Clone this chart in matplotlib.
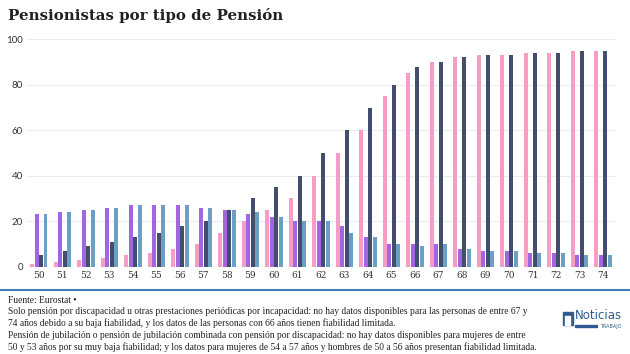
import numpy as np
import matplotlib
matplotlib.use("Agg")
import matplotlib.pyplot as plt
from matplotlib.patches import Rectangle
from matplotlib.lines import Line2D

ages = [str(a) for a in range(50, 75)]
# order inside each group: pink, purple, navy, steel blue
pink = [1, 2, 3, 4, 5, 6, 8, 10, 15, 20, 25, 30, 40, 50, 60, 75, 85, 90, 92, 93, 93, 94, 94, 95, 95]
purple = [23, 24, 25, 26, 27, 27, 27, 26, 25, 23, 22, 20, 20, 18, 13, 10, 10, 10, 8, 7, 7, 6, 6, 5, 5]
navy = [5, 7, 9, 11, 13, 15, 18, 20, 25, 30, 35, 40, 50, 60, 70, 80, 88, 90, 92, 93, 93, 94, 94, 95, 95]
steel = [23, 24, 25, 26, 27, 27, 27, 26, 25, 24, 22, 20, 20, 15, 13, 10, 9, 10, 8, 7, 7, 6, 6, 5, 5]
yticks = [0, 20, 40, 60, 80, 100]

colors = ["#f79cc4", "#a366e2", "#434d6e", "#6c9fc4"]
series = [pink, purple, navy, steel]

fig = plt.figure(figsize=(6.3, 3.54), dpi=100)
ax = fig.add_axes([0.043, 0.2466, 0.933, 0.6424])

x = np.arange(len(ages))
slot = 0.19
bw = 0.165
for i, (vals, c) in enumerate(zip(series, colors)):
    ax.bar(x + (i - 1.5) * slot, vals, width=bw, color=c, linewidth=0, zorder=3)

ax.set_xlim(-0.5, 24.5)
ax.set_ylim(0, 100)
ax.set_yticks(yticks)
ax.set_xticks(x)
ax.set_xticklabels(ages, family="DejaVu Serif", fontsize=6.5, color="#333333")
ax.set_yticklabels([str(t) for t in yticks], family="Lato", fontsize=7, color="#333333")
ax.grid(axis="y", color="#ececec", linewidth=0.8, zorder=0)
ax.tick_params(length=0, pad=3)
for s in ax.spines.values():
    s.set_visible(False)

fig.text(0.013, 0.955, "Pensionistas por tipo de Pensión", family="DejaVu Serif",
         fontsize=10.8, fontweight="bold", color="#222222", va="center")

fig.add_artist(Line2D([0, 1], [0.181, 0.181], color="#3f7fbf", linewidth=1.5))

notes = [
    "Fuente: Eurostat •",
    "Solo pensión por discapacidad u otras prestaciones periódicas por incapacidad: no hay datos disponibles para las personas de entre 67 y",
    "74 años debido a su baja fiabilidad, y los datos de las personas con 66 años tienen fiabilidad limitada.",
    "Pensión de jubilación o pensión de jubilación combinada con pensión por discapacidad: no hay datos disponibles para mujeres de entre",
    "50 y 53 años por su muy baja fiabilidad; y los datos para mujeres de 54 a 57 años y hombres de 50 a 56 años presentan fiabilidad limitada.",
]
for k, line in enumerate(notes):
    fig.text(0.013, 0.152 - k * 0.033, line, family="Liberation Serif", fontsize=6.85,
             color="#222222", va="center")

# logo
fig.add_artist(Rectangle((0.893, 0.082), 0.016, 0.036, color="#2e5c8f"))
fig.add_artist(Rectangle((0.897, 0.082), 0.008, 0.026, color="white"))
fig.text(0.912, 0.108, "Noticias", family="DejaVu Sans", fontsize=8.5,
         color="#2e5c8f", va="center")
fig.add_artist(Rectangle((0.913, 0.076), 0.035, 0.007, color="#2e5c8f"))
fig.text(0.952, 0.079, "TRABAJO", family="DejaVu Sans", fontsize=3.5,
         color="#2e5c8f", va="center")

fig.savefig("out.png", dpi=100, facecolor="white")
